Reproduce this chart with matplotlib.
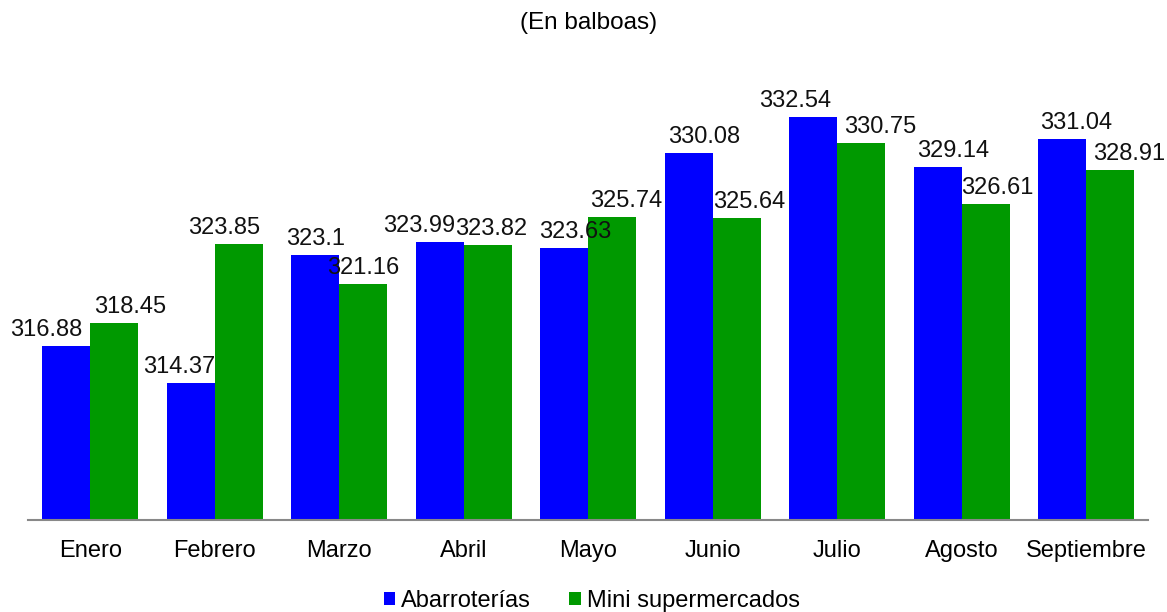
import matplotlib
matplotlib.use("Agg")
import matplotlib.pyplot as plt
import numpy as np

plt.rcParams['font.family'] = ['Liberation Sans', 'DejaVu Sans']

categories = ["Enero", "Febrero", "Marzo", "Abril", "Mayo", "Junio", "Julio", "Agosto", "Septiembre"]
abarroterias = [316.88, 314.37, 323.1, 323.99, 323.63, 330.08, 332.54, 329.14, 331.04]
mini_super = [318.45, 323.85, 321.16, 323.82, 325.74, 325.64, 330.75, 326.61, 328.91]
labels_abar = ["316.88", "314.37", "323.1", "323.99", "323.63", "330.08", "332.54", "329.14", "331.04"]
labels_mini = ["318.45", "323.85", "321.16", "323.82", "325.74", "325.64", "330.75", "326.61", "328.91"]
series_names = ["Abarroterías", "Mini supermercados"]
title = "(En balboas)"

# horizontal nudges of the value labels (pixels), as placed in the reference
nudge_abar = [-20, -12, 0, -21, 11, 16, -18, 16, 14]
nudge_mini = [16, -15, 0, 3, 14, 13, 19, 12, 19]

BLUE = "#0000FF"
GREEN = "#009900"

fig = plt.figure(figsize=(11.67, 6.12), dpi=100)
ax = fig.add_axes([0.024, 0.150, 0.96, 0.837])

x = np.arange(len(categories))
w = 0.386
b1 = ax.bar(x - w / 2, abarroterias, width=w, color=BLUE, label=series_names[0], zorder=2)
b2 = ax.bar(x + w / 2, mini_super, width=w, color=GREEN, label=series_names[1], zorder=2)

ax.set_ylim(305, 340)
ax.set_xlim(-0.5, len(categories) - 0.5)

for i in range(len(categories)):
    ax.annotate(labels_abar[i], (x[i] - w / 2, abarroterias[i]), xytext=(nudge_abar[i], 5),
                textcoords="offset pixels", ha="center", va="bottom", fontsize=17, color="#111111")
    ax.annotate(labels_mini[i], (x[i] + w / 2, mini_super[i]), xytext=(nudge_mini[i], 5),
                textcoords="offset pixels", ha="center", va="bottom", fontsize=17, color="#111111")

ax.set_xticks(x)
ax.set_xticklabels(categories, fontsize=17)
ax.tick_params(axis="x", length=0, pad=14)
ax.set_yticks([])
for s in ["top", "right", "left"]:
    ax.spines[s].set_visible(False)
ax.spines["bottom"].set_color("#888888")
ax.spines["bottom"].set_linewidth(1.5)
ax.spines["bottom"].set_zorder(3)

fig.text(0.504, 0.963, title, ha="center", va="center", fontsize=17.5)

fig.legend(handles=[b1, b2], loc="center", bbox_to_anchor=(0.507, 0.018), ncol=2, frameon=False,
           fontsize=17, handlelength=0.5, handleheight=0.5, handletextpad=0.25, columnspacing=1.6,
           borderpad=0)

fig.savefig("out.png", dpi=100)
